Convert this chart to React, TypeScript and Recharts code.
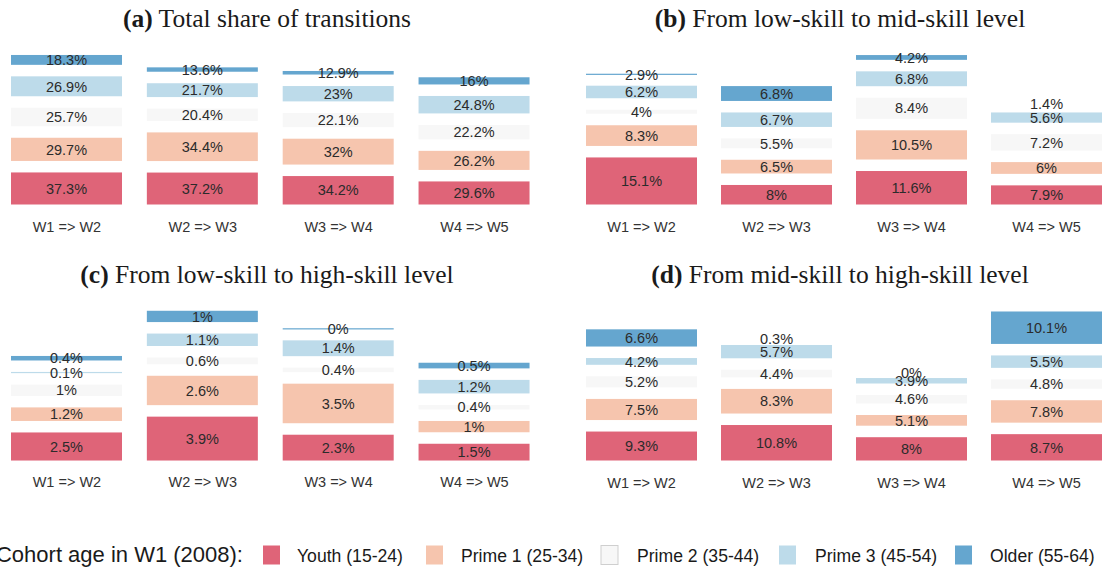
import React from "react";
import { BarChart, Bar, XAxis, YAxis } from "recharts";

const PERIODS = ["W1 => W2", "W2 => W3", "W3 => W4", "W4 => W5"];
const KEYS = ["youth", "prime1", "prime2", "prime3", "older"];
const COHORTS = ["Youth (15-24)", "Prime 1 (25-34)", "Prime 2 (35-44)", "Prime 3 (45-54)", "Older (55-64)"];
const COLORS = ["#df6478", "#f6c5ae", "#f7f7f7", "#bddbea", "#65a6cf"];

// (a) total share of transitions
const totalYouth = [37.3, 37.2, 34.2, 29.6];
const totalPrime1 = [29.7, 34.4, 32, 26.2];
const totalPrime2 = [25.7, 20.4, 22.1, 22.2];
const totalPrime3 = [26.9, 21.7, 23, 24.8];
const totalOlder = [18.3, 13.6, 12.9, 16];

// (b) low-skill -> mid-skill
const lowMidYouth = [15.1, 8, 11.6, 7.9];
const lowMidPrime1 = [8.3, 6.5, 10.5, 6];
const lowMidPrime2 = [4, 5.5, 8.4, 7.2];
const lowMidPrime3 = [6.2, 6.7, 6.8, 5.6];
const lowMidOlder = [2.9, 6.8, 4.2, 1.4];

// (c) low-skill -> high-skill
const lowHighYouth = [2.5, 3.9, 2.3, 1.5];
const lowHighPrime1 = [1.2, 2.6, 3.5, 1];
const lowHighPrime2 = [1, 0.6, 0.4, 0.4];
const lowHighPrime3 = [0.1, 1.1, 1.4, 1.2];
const lowHighOlder = [0.4, 1, 0, 0.5];

// (d) mid-skill -> high-skill
const midHighYouth = [9.3, 10.8, 8, 8.7];
const midHighPrime1 = [7.5, 8.3, 5.1, 7.8];
const midHighPrime2 = [5.2, 4.4, 4.6, 4.8];
const midHighPrime3 = [4.2, 5.7, 3.9, 5.5];
const midHighOlder = [6.6, 0.3, 0, 10.1];

function buildRows(series: number[][]) {
  return PERIODS.map((period, i) => {
    const row: Record<string, string | number> = { period };
    KEYS.forEach((k, j) => {
      row[k] = series[j][i];
    });
    return row;
  });
}

interface PanelCfg {
  max: number;
  inset: number; // white border eaten from each segment
  spacer: number; // fixed px gap pushed between segments
  bottom: number;
  tickMargin: number;
}

function makeShape(order: number, key: string, cfg: PanelCfg) {
  return (props: any) => {
    const { x, y, width, height, payload } = props;
    const off = order * cfg.spacer;
    const mid = y - off + height / 2;
    let h = height - 2 * cfg.inset;
    let rect = null;
    if (h >= -1.5) {
      if (h < 1.2) h = 1.2;
      rect = <rect x={x} y={mid - h / 2} width={width} height={h} fill={COLORS[order]} />;
    }
    return (
      <g>
        {rect}
        <text
          x={x + width / 2}
          y={mid}
          dy="0.36em"
          textAnchor="middle"
          fontSize={14.5}
          fontFamily="'Liberation Sans', Arial, sans-serif"
          fill="#2b2b2b"
        >
          {`${payload[key]}%`}
        </text>
      </g>
    );
  };
}

function Panel({ rows, cfg, left, top, width }: { rows: any[]; cfg: PanelCfg; left: number; top: number; width: number }) {
  return (
    <div style={{ position: "absolute", left, top }}>
      <BarChart
        width={width}
        height={256}
        data={rows}
        margin={{ top: 40, right: 0, left: 0, bottom: cfg.bottom }}
        barSize={111}
      >
        <XAxis
          dataKey="period"
          axisLine={false}
          tickLine={false}
          height={30}
          interval={0}
          tickMargin={cfg.tickMargin}
          tick={{ fontSize: 14.5, fill: "#333", fontFamily: "'Liberation Sans', Arial, sans-serif" }}
        />
        <YAxis hide domain={[0, cfg.max]} allowDataOverflow />
        {KEYS.map((k, i) => (
          <Bar
            key={k}
            dataKey={k}
            stackId="s"
            fill={COLORS[i]}
            isAnimationActive={false}
            shape={makeShape(i, k, cfg)}
          />
        ))}
      </BarChart>
    </div>
  );
}

const rowsA = buildRows([totalYouth, totalPrime1, totalPrime2, totalPrime3, totalOlder]);
const rowsB = buildRows([lowMidYouth, lowMidPrime1, lowMidPrime2, lowMidPrime3, lowMidOlder]);
const rowsC = buildRows([lowHighYouth, lowHighPrime1, lowHighPrime2, lowHighPrime3, lowHighOlder]);
const rowsD = buildRows([midHighYouth, midHighPrime1, midHighPrime2, midHighPrime3, midHighOlder]);

const cfgA: PanelCfg = { max: 145.8, inset: 5.75, spacer: 0, bottom: 15.75, tickMargin: 5.5 };
const cfgB: PanelCfg = { max: 43.9, inset: 5.75, spacer: 0, bottom: 15.75, tickMargin: 5.5 };
const cfgC: PanelCfg = { max: 14.58, inset: 0, spacer: 11.5, bottom: 21.3, tickMargin: 10 };
const cfgD: PanelCfg = { max: 39.14, inset: 5.75, spacer: 0, bottom: 15.75, tickMargin: 5.5 };

const TITLES = [
  { tag: "(a)", text: " Total share of transitions", x: 267, y: 27.3 },
  { tag: "(b)", text: " From low-skill to mid-skill level", x: 840, y: 27.3 },
  { tag: "(c)", text: " From low-skill to high-skill level", x: 267, y: 283.3 },
  { tag: "(d)", text: " From mid-skill to high-skill level", x: 840, y: 283.3 },
];

const LEGEND_SWATCH_X = [263, 426, 601, 779, 955];
const LEGEND_TEXT_X = [297, 461, 637, 815, 990];

export default function App() {
  return (
    <div
      style={{
        position: "fixed",
        left: 0,
        top: 0,
        width: 1104,
        height: 569,
        overflow: "hidden",
        background: "#fff",
      }}
    >
      <Panel rows={rowsA} cfg={cfgA} left={-1.5} top={0} width={543.4} />
      <Panel rows={rowsB} cfg={cfgB} left={574.2} top={0} width={540} />
      <Panel rows={rowsC} cfg={cfgC} left={-1.5} top={256} width={543.4} />
      <Panel rows={rowsD} cfg={cfgD} left={574.2} top={256} width={540} />
      <svg width={1104} height={569} style={{ position: "absolute", left: 0, top: 0, pointerEvents: "none" }}>
        {TITLES.map((t) => (
          <text
            key={t.tag}
            x={t.x}
            y={t.y}
            textAnchor="middle"
            fontSize={25.5}
            fontFamily="'Liberation Serif', 'Times New Roman', serif"
            fill="#1a1a1a"
          >
            <tspan fontWeight="bold">{t.tag}</tspan>
            {t.text}
          </text>
        ))}
        <text
          x={243}
          y={561.5}
          textAnchor="end"
          fontSize={22}
          fontFamily="'Liberation Sans', Arial, sans-serif"
          fill="#1a1a1a"
        >
          Cohort age in W1 (2008):
        </text>
        {COHORTS.map((c, i) => (
          <g key={c}>
            <rect
              x={LEGEND_SWATCH_X[i]}
              y={545.5}
              width={17}
              height={19}
              fill={COLORS[i]}
              stroke={i === 2 ? "#cfcfcf" : "none"}
            />
            <text
              x={LEGEND_TEXT_X[i]}
              y={561.5}
              fontSize={17.6}
              fontFamily="'Liberation Sans', Arial, sans-serif"
              fill="#1a1a1a"
            >
              {c}
            </text>
          </g>
        ))}
      </svg>
    </div>
  );
}
